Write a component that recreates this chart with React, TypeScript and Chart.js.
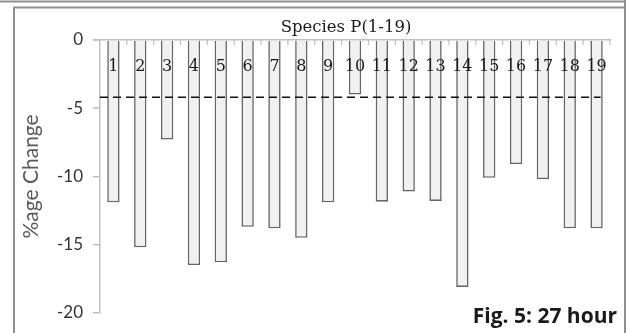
import React, { useEffect, useRef } from "react";
import { Chart, registerables } from "chart.js";

Chart.register(...registerables);

const categories = ["1", "2", "3", "4", "5", "6", "7", "8", "9", "10", "11", "12", "13", "14", "15", "16", "17", "18", "19"];
const percentChange = [-11.9, -15.2, -7.3, -16.5, -16.3, -13.7, -13.8, -14.5, -11.9, -4.0, -11.85, -11.1, -11.8, -18.1, -10.1, -9.1, -10.2, -13.8, -13.8];
const thresholdValue = -4.2;
const yMin = -20;
const yMax = 0;
const yStep = 5;
const xTitle = "Species P(1-19)";
const yTitle = "%age Change";
const figLabel = "Fig. 5: 27 hour";

const decorPlugin = {
  id: "decor",
  beforeDraw(chart: any) {
    const ctx = chart.ctx;
    const h = chart.height;
    ctx.save();
    ctx.strokeStyle = "#8f8f8f";
    ctx.lineWidth = 2;
    ctx.beginPath();
    ctx.moveTo(0, 1.5);
    ctx.lineTo(626, 1.5);
    ctx.stroke();
    ctx.beginPath();
    ctx.moveTo(14, h + 2);
    ctx.lineTo(14, 7.5);
    ctx.lineTo(625, 7.5);
    ctx.stroke();
    ctx.beginPath();
    ctx.moveTo(625, 0);
    ctx.lineTo(625, h + 2);
    ctx.stroke();
    ctx.restore();
  },
  afterDraw(chart: any) {
    const ctx = chart.ctx;
    const x = chart.scales.x;
    const y = chart.scales.y;
    const area = chart.chartArea;
    ctx.save();
    const half = (x.getPixelForValue(1) - x.getPixelForValue(0)) / 2;
    ctx.strokeStyle = "#bfbfbf";
    ctx.lineWidth = 1.5;
    // axis line extends slightly left of the value axis
    ctx.beginPath();
    ctx.moveTo(area.left - 7, area.top);
    ctx.lineTo(area.left, area.top);
    ctx.stroke();
    ctx.lineWidth = 1.2;
    for (let i = 0; i < categories.length; i++) {
      const px = x.getPixelForValue(i) + half;
      ctx.beginPath();
      ctx.moveTo(px, area.top);
      ctx.lineTo(px, area.top + 5);
      ctx.stroke();
    }
    ctx.fillStyle = "#1a1a1a";
    ctx.font = "16px 'DejaVu Serif'";
    ctx.textAlign = "center";
    ctx.textBaseline = "middle";
    categories.forEach((c, i) => {
      ctx.fillText(c, x.getPixelForValue(i), area.top + 27);
    });
    ctx.font = "16.5px 'DejaVu Serif'";
    ctx.fillText(xTitle, 346, 28);
    const ty = y.getPixelForValue(thresholdValue);
    const lastX = x.getPixelForValue(categories.length - 1);
    ctx.strokeStyle = "#111111";
    ctx.lineWidth = 1.5;
    ctx.setLineDash([8, 5]);
    ctx.beginPath();
    ctx.moveTo(area.left, ty);
    ctx.lineTo(lastX + 4, ty);
    ctx.stroke();
    ctx.setLineDash([]);
    ctx.fillStyle = "#1a1a1a";
    ctx.font = "bold 21px 'Open Sans'";
    ctx.textAlign = "right";
    ctx.textBaseline = "alphabetic";
    ctx.fillText(figLabel, 617, 323);
    ctx.restore();
  },
};

export default function App() {
  const canvasRef = useRef<HTMLCanvasElement | null>(null);

  useEffect(() => {
    const canvas = canvasRef.current;
    if (!canvas) return;
    const chart = new Chart(canvas, {
      type: "bar",
      data: {
        labels: categories,
        datasets: [
          {
            data: percentChange,
            backgroundColor: "#f1f1f1",
            borderColor: "#666666",
            borderWidth: 1.6,
            barPercentage: 0.46,
            categoryPercentage: 1,
          },
        ],
      },
      options: {
        responsive: false,
        animation: false,
        devicePixelRatio: 1,
        layout: { padding: { left: 14, right: 20, top: 0, bottom: 12 } },
        plugins: {
          legend: { display: false },
          tooltip: { enabled: false },
          title: { display: false },
        },
        scales: {
          x: {
            position: "top",
            grid: { display: false },
            border: { display: true, color: "#bfbfbf", width: 1.5 },
            ticks: { display: false },
            afterFit: (scale: any) => {
              scale.height = 40;
            },
          },
          y: {
            min: yMin,
            max: yMax,
            ticks: {
              stepSize: yStep,
              color: "#333333",
              font: { family: "Lato", size: 17 },
              padding: 10,
            },
            grid: {
              display: true,
              drawOnChartArea: false,
              drawTicks: true,
              tickLength: 7,
              color: "#bfbfbf",
              lineWidth: 1.5,
            },
            border: { display: true, color: "#bfbfbf", width: 1.5 },
            title: {
              display: true,
              text: yTitle,
              color: "#595959",
              font: { family: "Lato", size: 21 },
              padding: { top: 5, bottom: 0 },
            },
            afterFit: (scale: any) => {
              scale.width = 86;
            },
          },
        },
      },
      plugins: [decorPlugin],
    });
    return () => chart.destroy();
  }, []);

  return (
    <div style={{ position: "absolute", left: 0, top: 0, width: 630, height: 333, background: "#ffffff" }}>
      <canvas ref={canvasRef} width={630} height={333} />
    </div>
  );
}
